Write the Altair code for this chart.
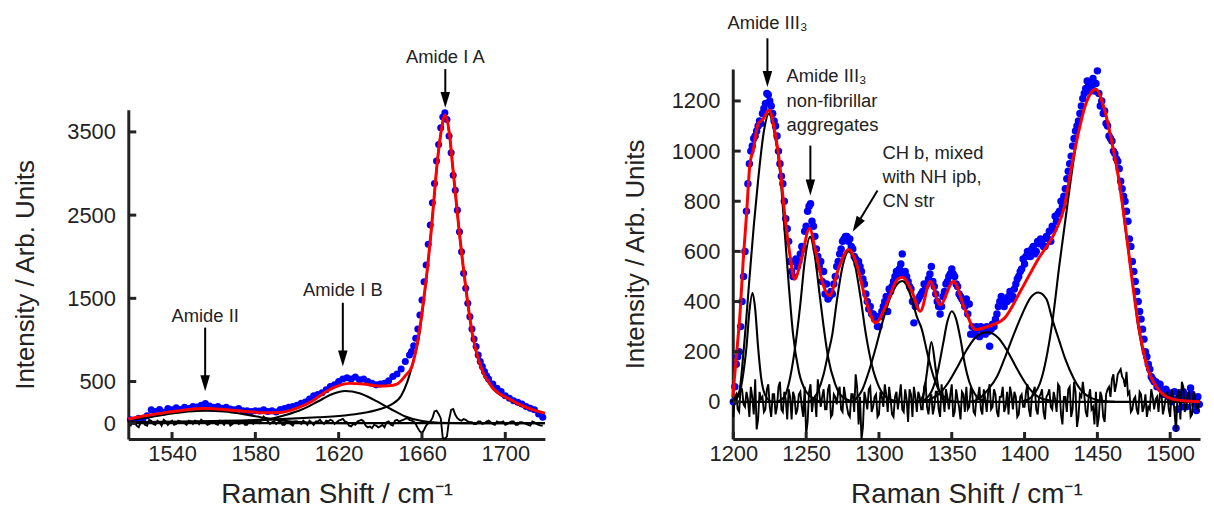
import altair as alt
import pandas as pd

FONT = "Liberation Sans"
INK = "#222222"

# ======================= LEFT PANEL (Amide I / II) =======================
L_XDOM = [1519, 1719]
L_YDOM = [-190, 3765]
L_XTICKS = [1540, 1580, 1620, 1660, 1700]
L_YTICKS = [0, 500, 1500, 2500, 3500]

left_fit_x = [1519, 1525, 1535, 1545, 1555, 1565, 1575, 1585, 1592, 1600, 1607, 1614, 1620, 1625,
              1632, 1639, 1644, 1648, 1652, 1655.2, 1658.3, 1660.8, 1662.7, 1664.3, 1665.7, 1667.1,
              1669, 1671.1, 1673.2, 1674.8, 1676.4, 1678, 1679.8, 1681.8, 1684.1, 1688.1, 1693.3,
              1702, 1710, 1719]
left_fit_y = [50, 80, 120, 155, 175, 165, 140, 125, 128, 180, 260, 380, 450, 478,
              470, 446, 450, 470, 570, 685, 1040, 1481, 1880, 2278, 2676, 3074,
              3472, 3704, 3472, 3074, 2676, 2278, 1880, 1481, 1083, 685, 446,
              287, 190, 120]

left_amide2_x = [1519, 1530, 1540, 1548, 1556, 1565, 1575, 1585, 1595, 1605, 1615, 1625]
left_amide2_y = [35, 75, 115, 140, 150, 140, 105, 60, 25, 8, 2, 0]
left_amide1b_x = [1560, 1575, 1585, 1595, 1602, 1610, 1617, 1623, 1630, 1637, 1645, 1652, 1660, 1668, 1680, 1719]
left_amide1b_y = [3, 15, 40, 100, 160, 260, 350, 386, 360, 280, 170, 80, 25, 5, 0, 0]
left_amide1a_x = [1519, 1560, 1590, 1610, 1620, 1630, 1640, 1645, 1650, 1653, 1656, 1658.3, 1660.8,
                  1662.7, 1664.3, 1665.7, 1667.1, 1669, 1671.1, 1673.2, 1674.8, 1676.4, 1678, 1679.8,
                  1681.8, 1684.1, 1688.1, 1693.3, 1702, 1710, 1719]
left_amide1a_y = [10, 25, 45, 70, 85, 115, 170, 220, 330, 500, 760, 1000, 1460,
                  1870, 2270, 2670, 3070, 3470, 3700, 3470, 3070, 2670, 2270, 1870,
                  1470, 1075, 680, 440, 280, 185, 115]

# measured points, 1520..1652 every 2 cm-1
left_dots_a = [40, 20, 60, 50, 90, 160, 140, 165, 130, 175,
               160, 185, 165, 190, 175, 200, 195, 215, 235, 205,
               190, 200, 180, 190, 170, 160, 175, 150, 150, 140,
               150, 145, 160, 140, 150, 135, 165, 175, 190, 200,
               215, 240, 255, 290, 330, 345, 365, 400, 440, 460,
               500, 530, 545, 530, 555, 520, 530, 500, 480, 460,
               470, 480, 510, 560, 590, 650, 740]
# 1654..1692 every 1 cm-1
left_dots_b = [820, 860, 930, 1020, 1130, 1300, 1480, 1700, 1900, 2150,
               2380, 2650, 2880, 3150, 3350, 3550, 3680, 3730, 3650, 3450,
               3250, 2980, 2800, 2560, 2300, 2060, 1800, 1620, 1440, 1280,
               1130, 1010, 920, 820, 740, 680, 620, 570, 530]
# 1694..1718 every 2 cm-1
left_dots_c = [470, 420, 380, 330, 300, 270, 250, 230, 200, 180, 160, 110, 70]

# residual, 1520..1718 (even cm-1)
left_resid_even = [-40, 10, -50, 20, -30, 30, -20, 10, 40, -20,
                   30, -10, 20, 0, 30, -10, 20, 40, 10, -10,
                   20, -20, 10, 30, -30, 10, -10, 20, -20, 10,
                   30, 0, 80, 20, 10, -10, 30, -20, 10, -30,
                   20, -10, 10, 30, -20, 20, 10, 30, 40, -10,
                   30, 50, 10, -40, -20, 30, 20, -50, -60, -30,
                   -40, -50, 20, -30, 40, 30, 50, 40, 20, -60,
                   -120, -30, 20, 140, 110, -180, -160, 160, 100, 40,
                   50, 20, 10, -10, 20, 0, 30, -10, 20, 10,
                   -20, 10, 20, -20, 10, -10, -30, 10, -20, -30]
# residual, 1521..1717 (odd cm-1)
left_resid_odd = [20, -30, 10, -20, 40, -10, 30, -30, 20, 10,
                  -20, 30, 10, -20, 20, 30, -10, 20, -20, 10,
                  -10, 30, -20, 20, -10, 20, 0, -20, 30, -10,
                  20, 40, 50, -10, 20, 10, -20, 20, -10, 20,
                  10, 30, -20, 10, 20, 40, -10, 20, 30, 10,
                  40, 20, -30, -10, 20, 40, -30, -40, -20, -50,
                  -20, 10, -20, 30, 20, 40, 60, 30, -10, -100,
                  -80, 0, 60, 150, 60, -190, 40, 170, 60, 30,
                  40, 10, -10, 20, -10, 20, 10, -20, 10, 20,
                  -10, 20, -20, 10, 0, -20, 20, -10, -30]

left_labels = ["Amide I A", "Amide I B", "Amide II"]
left_label_x = [1671.2, 1622.0, 1555.9]
left_label_y = [4398, 1594, 1292]
left_arrow_x = [1671.2, 1622.0, 1555.9]
left_arrow_y1 = [4255, 1447, 1148]
left_arrow_y2 = [3908, 802, 503]
left_tip_y = [3789, 682, 384]

# ======================= RIGHT PANEL (Amide III) =======================
R_XDOM = [1199.6, 1520.5]
R_YDOM = [-148, 1327]
R_XTICKS = [1200, 1250, 1300, 1350, 1400, 1450, 1500]
R_YTICKS = [0, 200, 400, 600, 800, 1000, 1200]

right_fit_x = [1199.6, 1202.3, 1204.6, 1206.8, 1209.1, 1211.4, 1213.6, 1217, 1220.4, 1224.5,
               1228.4, 1231.8, 1235.2, 1238.7, 1242.1, 1246.6, 1252.3, 1256.8, 1261.4, 1265.9,
               1272.7, 1279.1, 1285.2, 1290.9, 1297.7, 1304.6, 1312.5, 1316, 1322.7, 1328.4,
               1335.2, 1342.1, 1351.1, 1359.1, 1366.3, 1375, 1386.4, 1397.7, 1409, 1421.5,
               1427.3, 1431.8, 1436.3, 1442, 1448.8, 1454.5, 1460.2, 1464.8, 1469.3, 1473.8,
               1478.4, 1484, 1490.9, 1498.8, 1508, 1520.5]
right_fit_y = [20, 196, 354, 566, 751, 949, 1002, 1108, 1128, 1163,
               1081, 949, 751, 592, 489, 566, 691, 592, 473, 423,
               539, 608, 539, 407, 315, 381, 487, 497, 440, 361,
               480, 387, 480, 368, 288, 301, 335, 447, 566, 685,
               777, 923, 1055, 1187, 1247, 1174, 1029, 883, 698, 487,
               301, 143, 57, 17, 5, 0]

right_comp_x = {
    "c1": [1200, 1204, 1207, 1209, 1211, 1213.2, 1215, 1217, 1219, 1222, 1226],
    "c2": [1198, 1204, 1207, 1211, 1214, 1217, 1221, 1224.5, 1228, 1232, 1235, 1238, 1241, 1245, 1250, 1256, 1262],
    "c3": [1230, 1235, 1238, 1242, 1246, 1249, 1252.7, 1256, 1259, 1262, 1265, 1270, 1276, 1284],
    "c4": [1252, 1258, 1262, 1265, 1268, 1271, 1275, 1279.1, 1283, 1287, 1291, 1295, 1300, 1306, 1314],
    "c5": [1282, 1288.7, 1293, 1298, 1303, 1308, 1312.5, 1316, 1319, 1322.7, 1326, 1329.5, 1333, 1336, 1339, 1342, 1347, 1352],
    "c6": [1326, 1329, 1331, 1333, 1336, 1339, 1341, 1344, 1347],
    "c7": [1328, 1332, 1336, 1340, 1344, 1347, 1350, 1353, 1356, 1359, 1362, 1366, 1372, 1378],
    "c8": [1330, 1335, 1342, 1348, 1354, 1360, 1366, 1374, 1382, 1388, 1394, 1400, 1406, 1412, 1420, 1428],
    "c9": [1362, 1368, 1375, 1381, 1386, 1392, 1398, 1404, 1409.5, 1415, 1419, 1424, 1428, 1434, 1440, 1446, 1455, 1462],
    "c10": [1398, 1405, 1412, 1419, 1424, 1429.5, 1436, 1442, 1448.5, 1454, 1460, 1465, 1469, 1474, 1478, 1484, 1491, 1499, 1510, 1520.5],
}
right_comp_y = {
    "c1": [0, 30, 120, 217, 360, 434, 370, 217, 100, 25, 0],
    "c2": [0, 40, 200, 487, 700, 883, 1080, 1150, 1080, 920, 700, 470, 270, 120, 40, 10, 0],
    "c3": [0, 20, 70, 200, 390, 560, 658, 580, 440, 300, 180, 70, 15, 0],
    "c4": [0, 40, 110, 190, 270, 400, 540, 600, 560, 430, 270, 150, 60, 15, 0],
    "c5": [0, 50, 120, 220, 330, 420, 470, 482, 465, 407, 340, 288, 200, 130, 75, 38, 10, 0],
    "c6": [0, 10, 40, 120, 238, 130, 50, 10, 0],
    "c7": [0, 10, 40, 110, 230, 320, 361, 330, 250, 150, 80, 30, 5, 0],
    "c8": [0, 10, 35, 80, 140, 205, 255, 278, 255, 205, 140, 80, 35, 12, 3, 0],
    "c9": [0, 10, 50, 100, 169, 260, 345, 415, 436, 410, 330, 240, 170, 90, 38, 15, 3, 0],
    "c10": [0, 20, 100, 315, 550, 790, 1050, 1190, 1245, 1180, 1030, 880, 700, 487, 300, 140, 55, 15, 2, 0],
}

# measured points at 1200..1520 (even) and 1201..1519 (odd)
right_dots_even = [0, 150, 200, 400, 600, 870, 1000, 1050, 1080, 1120,
                   1150, 1190, 1225, 1180, 1120, 1060, 950, 870, 730, 640,
                   520, 560, 540, 590, 610, 700, 780, 720, 660, 580,
                   560, 520, 470, 420, 430, 500, 560, 610, 650, 660,
                   650, 610, 570, 560, 520, 470, 400, 380, 350, 340,
                   300, 360, 400, 360, 440, 480, 520, 530, 590, 520,
                   480, 450, 315, 400, 420, 440, 460, 490, 540, 460,
                   400, 350, 420, 470, 500, 530, 500, 460, 420, 400,
                   410, 390, 300, 280, 290, 300, 280, 300, 222, 310,
                   330, 380, 420, 380, 400, 440, 420, 470, 500, 530,
                   550, 600, 580, 620, 600, 630, 640, 620, 650, 640,
                   690, 720, 760, 780, 850, 920, 980, 1050, 1100, 1150,
                   1210, 1250, 1270, 1260, 1240, 1320, 1180, 1150, 1110, 1060,
                   1040, 990, 960, 880, 820, 760, 650, 560, 480, 400,
                   330, 250, 180, 130, 90, 80, 70, 50, 30, 40,
                   30, 10, -105, 20, -20, 30, 10, 55, 10, -35,
                   -10]
right_dots_odd = [60, 180, 300, 500, 760, 950, 1020, 1060, 1100, 1110,
                  1170, 1230, 1200, 1150, 1100, 1000, 900, 800, 690, 560,
                  500, 570, 560, 620, 680, 760, 790, 700, 610, 540,
                  480, 430, 410, 440, 470, 540, 590, 640, 660, 640,
                  620, 580, 550, 540, 490, 430, 370, 350, 330, 300,
                  340, 380, 420, 450, 460, 500, 510, 550, 510, 500,
                  460, 400, 380, 410, 430, 470, 470, 510, 480, 430,
                  380, 380, 440, 480, 510, 510, 470, 430, 410, 380,
                  350, 270, 270, 300, 260, 290, 270, 280, 290, 300,
                  350, 400, 390, 400, 420, 410, 450, 490, 520, 570,
                  580, 590, 610, 590, 640, 650, 620, 660, 680, 700,
                  740, 750, 800, 820, 890, 950, 1020, 1080, 1120, 1180,
                  1230, 1280, 1240, 1290, 1270, 1230, 1200, 1160, 1100, 1050,
                  1000, 970, 930, 850, 800, 720, 620, 520, 440, 360,
                  290, 200, 150, 100, 80, 60, 70, 30, 50, 20,
                  0, 40, -30, 10, 40, -20, 20, 30, -10, 20]

# residual, 1200..1520 (even cm-1)
right_resid_even = [-60, 30, -40, 50, -20, 10, 60, -50, -110, 40, 20, -30, 70, -60, 30, -20, 80, -40, 10, 50,
                    -70, 20, -30, 40, -60, -130, 40, -40, 20, 90, -20, 50, -30, 70, -50, 20, 40, -30, 60, -20,
                    -60, 30, 110, -90, -150, 40, -30, 60, -20, 30, -50, 20, 70, -40, 10, -60, 40, 20, -30, 50,
                    -80, 30, 60, -40, 20, -30, 80, -50, 30, -20, 40, -60, 20, 50, -30, 70, -40, 10, -70, 30,
                    60, -20, 40, -50, 20, -30, 50, -40, 70, -20, 30, -60, 20, -40, 40, 60, -30, 20, -50, 30,
                    -20, 70, -60, 40, -30, 20, 50, -70, 30, -20, 40, -40, 60, -90, 20, 50, -60, 80, -100, 30,
                    80, -40, 20, -30, -90, -100, 40, -60, 30, 60, 90, 40, 110, 130, 90, 120, 40, -30, 20, -50,
                    30, -20, -60, -30, 20, 10, -40, 30, -20, 40, -60, 20, -120, 50, 80, -40, 30, -60, 40, -20,
                    10]
# residual, 1201..1519 (odd cm-1)
right_resid_odd = [20, -30, 60, -10, 40, -60, 20, 90, -70, 10, -40, 50, -20, 30, -50, 60, -30, 40, -70, 20,
                   40, -50, 30, -20, 60, -80, 70, 10, -60, 40, 20, -30, 50, -60, 30, -10, 60, -40, 20, -50,
                   30, -40, 60, 20, -100, 10, 50, -40, 20, -60, 40, -20, 30, 60, -50, 20, -30, 70, -40, 10,
                   50, -60, 20, 40, -30, 60, -20, 10, -50, 40, -30, 70, -40, 20, 30, -60, 50, -20, 40, -40,
                   -30, 50, -40, 20, 60, -50, 10, 40, -30, 50, -40, 20, 60, -20, -50, 30, 40, -60, 20, -20,
                   40, -30, 20, 60, -50, 30, -40, 20, 50, -30, 10, 70, -50, 20, -40, 60, -30, 40, -60, 20,
                   30, -60, 50, -20, 40, -60, 20, -80, 50, 20, 110, 70, 120, 100, 60, 30, -40, 10, -30, 40,
                   -40, 30, -20, 50, -30, 20, 40, -50, 20, -30, 50, -40, 30, -70, 60, -20, 40, -50, 20, -30]

right_center_labels = ["Amide III\u2083"]
right_center_x = [1223.4]
right_center_y = [1509]
right_left_labels = ["Amide III\u2083", "non-fibrillar", "aggregates", "CH b, mixed", "with NH ipb,", "CN str"]
right_left_x = [1236.5, 1236.5, 1236.5, 1302.4, 1302.4, 1302.4]
right_left_y = [1299, 1200, 1105, 994, 895, 800]
right_arrow_x1 = [1223.4, 1252.9, 1299.0]
right_arrow_y1 = [1450, 1022, 843]
right_arrow_x2 = [1223.4, 1252.9, 1285.4]
right_arrow_y2 = [1295, 863, 712]
right_tip_x = [1223.4, 1252.9, 1281.9]
right_tip_y = [1256, 823, 678]
right_tip_angle = [0, 0, 31]

ARROW_HEAD = "M-0.6,-2L0.6,-2L0,0Z"
X_TITLE = "Raman Shift / cm\u207b\u00b9"
Y_TITLE = "Intensity / Arb. Units"


def grid(start, step, vals):
    return pd.DataFrame({"x": [start + step * i for i in range(len(vals))], "y": vals})


def pts(xs, ys):
    return pd.DataFrame({"x": list(xs)[:len(ys)], "y": list(ys)[:len(xs)]})


def panel(width, height, xdom, ydom, yrange, xticks, yticks, dots, comps, resid, fit,
          ann_center, ann_left, arrows, heads, y_title_pad, dot_size):
    xs = alt.Scale(domain=xdom, nice=False, zero=False)
    if yrange is not None:
        ys = alt.Scale(domain=ydom, nice=False, zero=False, range=yrange)
    else:
        ys = alt.Scale(domain=ydom, nice=False, zero=False)
    xaxis = alt.Axis(values=xticks, title=X_TITLE, format="d", grid=False, ticks=False,
                     domainColor=INK, domainWidth=3, labelFont=FONT, labelFontSize=22,
                     labelColor=INK, labelPadding=5, labelFlush=False, labelOverlap=False,
                     titleFont=FONT, titleFontSize=28, titleFontWeight="normal",
                     titleColor=INK, titlePadding=16)
    yaxis = alt.Axis(values=yticks, title=Y_TITLE, format="d", grid=False, ticks=False,
                     domainColor=INK, domainWidth=3, labelFont=FONT, labelFontSize=22,
                     labelColor=INK, labelPadding=13, labelFlush=False, labelOverlap=False,
                     titleFont=FONT, titleFontSize=26, titleFontWeight="normal",
                     titleColor=INK, titlePadding=y_title_pad)

    def X(f="x"):
        return alt.X(f, type="quantitative", scale=xs, axis=xaxis)

    def Y(f="y"):
        return alt.Y(f, type="quantitative", scale=ys, axis=yaxis)

    layers = []
    layers.append(alt.Chart(dots).mark_circle(size=dot_size, color="#0000ff", opacity=1)
                  .encode(x=X(), y=Y()))
    layers.append(alt.Chart(comps).mark_line(color="black", strokeWidth=2.1, interpolate="monotone")
                  .encode(x=X(), y=Y(), detail="comp:N"))
    layers.append(alt.Chart(pd.DataFrame({"y": [0]})).mark_rule(color="black", strokeWidth=2.2)
                  .encode(y=Y()))
    layers.append(alt.Chart(resid).mark_line(color="black", strokeWidth=1.9)
                  .encode(x=X(), y=Y()))
    layers.append(alt.Chart(fit).mark_line(color="#ff0000", strokeWidth=3, interpolate="monotone")
                  .encode(x=X(), y=Y()))
    layers.append(alt.Chart(pd.DataFrame({"y": yticks})).mark_rule(color=INK, strokeWidth=3)
                  .encode(y=Y(), x=alt.value(0), x2=alt.value(8)))
    layers.append(alt.Chart(pd.DataFrame({"x": xticks})).mark_rule(color=INK, strokeWidth=3)
                  .encode(x=X(), y=alt.value(height), y2=alt.value(height - 7)))
    if ann_center is not None:
        layers.append(alt.Chart(ann_center).mark_text(font=FONT, fontSize=18.5, color=INK,
                                                      align="center", baseline="middle")
                      .encode(x=X(), y=Y(), text="t:N"))
    if ann_left is not None:
        layers.append(alt.Chart(ann_left).mark_text(font=FONT, fontSize=18.5, color=INK,
                                                    align="left", baseline="middle")
                      .encode(x=X(), y=Y(), text="t:N"))
    layers.append(alt.Chart(arrows).mark_rule(color="black", strokeWidth=2)
                  .encode(x=X(), y=Y(), x2="x2:Q", y2="y2:Q"))
    layers.append(alt.Chart(heads).mark_point(shape=ARROW_HEAD, filled=True, size=256,
                                              color="black", opacity=1, strokeWidth=0)
                  .encode(x=X(), y=Y(), angle=alt.Angle("a:Q", scale=None)))
    return alt.layer(*layers).properties(width=width, height=height)


H = 372

# ---- left data tables
l_dots = pd.concat([grid(1520, 2, left_dots_a), grid(1654, 1, left_dots_b),
                    grid(1694, 2, left_dots_c)], ignore_index=True)
l_comps = pd.concat([pts(left_amide2_x, left_amide2_y).assign(comp="II"),
                     pts(left_amide1b_x, left_amide1b_y).assign(comp="IB"),
                     pts(left_amide1a_x, left_amide1a_y).assign(comp="IA")], ignore_index=True)
l_resid = (pd.concat([grid(1520, 2, left_resid_even), grid(1521, 2, left_resid_odd)], ignore_index=True)
           .sort_values("x").reset_index(drop=True))
l_fit = pts(left_fit_x, left_fit_y)
l_ann = pd.DataFrame({"t": left_labels, "x": left_label_x, "y": left_label_y})
l_arrows = pd.DataFrame({"x": left_arrow_x, "y": left_arrow_y1, "x2": left_arrow_x, "y2": left_arrow_y2})
l_heads = pd.DataFrame({"x": left_arrow_x, "y": left_tip_y, "a": [0, 0, 0]})

left = panel(419, H, L_XDOM, L_YDOM, [H, 41], L_XTICKS, L_YTICKS, l_dots, l_comps, l_resid,
             l_fit, l_ann, None, l_arrows, l_heads, 28, 50)

# ---- right data tables
r_dots = pd.concat([grid(1200, 2, right_dots_even), grid(1201, 2, right_dots_odd)], ignore_index=True)
r_comps = pd.concat([pts(right_comp_x[k], right_comp_y[k]).assign(comp=k) for k in right_comp_x],
                    ignore_index=True)
r_resid = (pd.concat([grid(1200, 2, right_resid_even), grid(1201, 2, right_resid_odd)], ignore_index=True)
           .sort_values("x").reset_index(drop=True))
r_fit = pts(right_fit_x, right_fit_y)
r_ann_c = pd.DataFrame({"t": right_center_labels, "x": right_center_x, "y": right_center_y})
r_ann_l = pd.DataFrame({"t": right_left_labels, "x": right_left_x, "y": right_left_y})
r_arrows = pd.DataFrame({"x": right_arrow_x1, "y": right_arrow_y1, "x2": right_arrow_x2, "y2": right_arrow_y2})
r_heads = pd.DataFrame({"x": right_tip_x, "y": right_tip_y, "a": right_tip_angle})

right = panel(470, H, R_XDOM, R_YDOM, None, R_XTICKS, R_YTICKS, r_dots, r_comps, r_resid,
              r_fit, r_ann_c, r_ann_l, r_arrows, r_heads, 23, 56)

chart = (alt.hconcat(left, right, spacing=189, bounds="flush")
         .properties(padding={"left": 5, "top": 5, "right": 0, "bottom": 0}, background="white")
         .configure_view(strokeWidth=0, stroke=None))

chart.save("out.html", embed_options={"renderer": "svg", "actions": False})
